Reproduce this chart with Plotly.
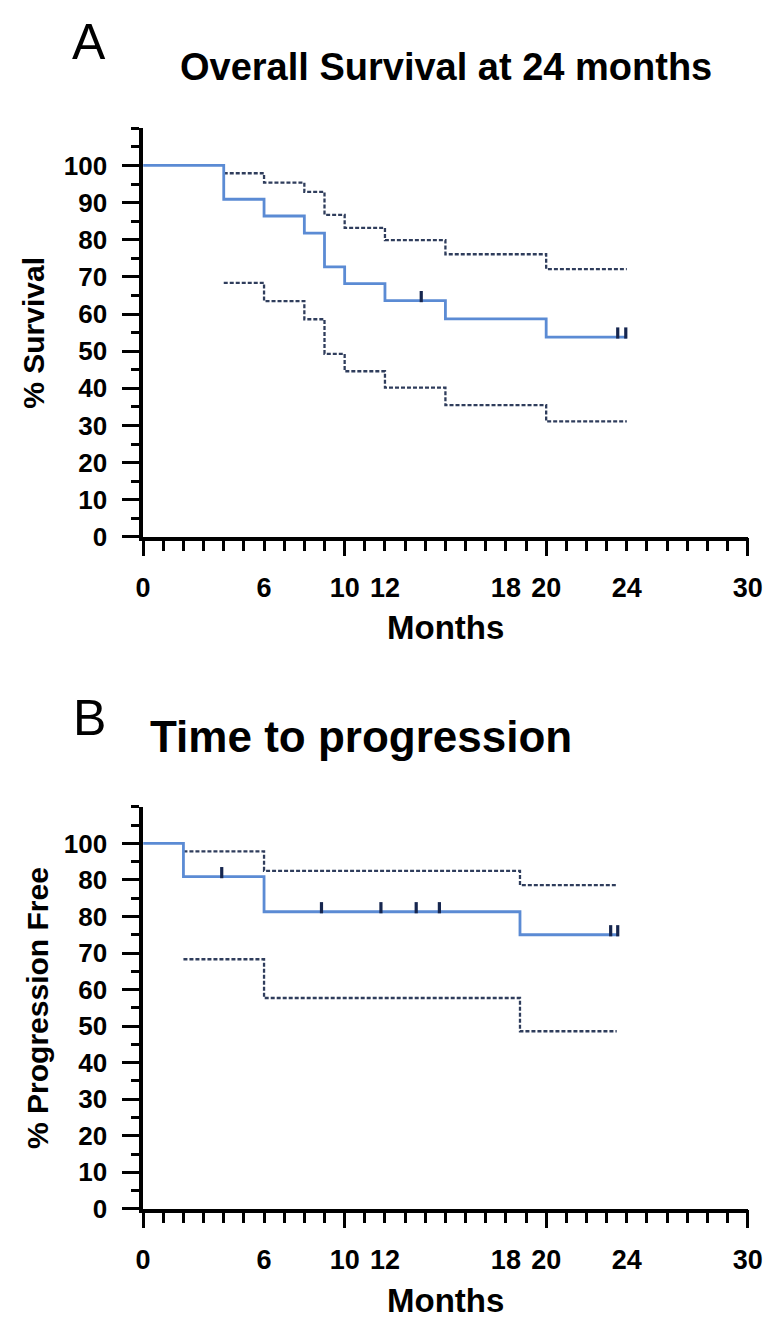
import plotly.graph_objects as go

W, H = 778, 1325

# ---------------- Data: Panel A (Overall Survival) ----------------
os_time = [0, 4, 6, 8, 9, 10, 12, 15, 20, 24]
os_surv = [100, 90.9, 86.4, 81.8, 72.7, 68.2, 63.6, 58.7, 53.8, 53.8]
os_ci_time = [4, 6, 8, 9, 10, 12, 15, 20, 24]
os_ci_upper = [97.9, 95.4, 92.9, 86.7, 83.2, 79.9, 76.1, 72.1, 72.1]
os_ci_lower = [68.4, 63.5, 58.6, 49.3, 44.6, 40.2, 35.5, 31.1, 31.1]
os_cens_time = [13.8, 23.55, 23.95]
os_cens_surv = [63.6, 53.8, 53.8]

# ---------------- Data: Panel B (Time to progression) ----------------
ttp_time = [0, 2, 6, 18.7, 23.6]
ttp_free = [100, 90.9, 81.3, 75.0, 75.0]
ttp_ci_time = [2, 6, 18.7, 23.5]
ttp_ci_upper = [97.8, 92.5, 88.6, 88.6]
ttp_ci_lower = [68.3, 57.7, 48.6, 48.6]
ttp_cens_time = [3.9, 8.85, 11.8, 13.55, 14.7, 23.2, 23.55]
ttp_cens_free = [90.9, 81.3, 81.3, 81.3, 81.3, 75.0, 75.0]

# ---------------- Axis labels ----------------
x_tickvals = [0, 6, 10, 12, 18, 20, 24, 30]
x_ticktext = ["0", "6", "10", "12", "18", "20", "24", "30"]
x_major = [0, 10, 20, 30]
y_tickvals = [0, 10, 20, 30, 40, 50, 60, 70, 80, 90, 100]
y_ticktext_a = ["0", "10", "20", "30", "40", "50", "60", "70", "80", "90", "100"]
y_ticktext_b = ["0", "10", "20", "30", "40", "50", "60", "70", "80", "80", "100"]

BLUE = "#5b8bd4"
CI = "#2f3d5c"
CENS = "#16264f"
FONT = "Liberation Sans, Arial, sans-serif"
CENS_OFFSET = 1.1  # censor ticks sit just above the curve

def px_x(p):
    return p / W

def px_y(p):
    return 1 - p / H

x_dom = [px_x(131), px_x(754)]
dom_a = [px_y(535), px_y(121.7)]
dom_b = [px_y(1214.6), px_y(808)]

fig = go.Figure()

def add_panel(xa, ya, t, s, ct, cu, cl, cx, cy):
    for band in (cu, cl):
        fig.add_trace(go.Scatter(x=ct, y=band, mode="lines",
                                 line=dict(shape="hv", color=CI, width=2.3, dash="4px,2px"),
                                 xaxis=xa, yaxis=ya, showlegend=False, hoverinfo="skip"))
    fig.add_trace(go.Scatter(x=t, y=s, mode="lines", line=dict(shape="hv", color=BLUE, width=2.8),
                             xaxis=xa, yaxis=ya, showlegend=False, cliponaxis=False))
    fig.add_trace(go.Scatter(x=cx, y=[v + CENS_OFFSET for v in cy], mode="markers",
                             marker=dict(symbol="line-ns", size=8, line=dict(color=CENS, width=3.2)),
                             xaxis=xa, yaxis=ya, showlegend=False, cliponaxis=False))

add_panel("x", "y", os_time, os_surv, os_ci_time, os_ci_upper, os_ci_lower, os_cens_time, os_cens_surv)
add_panel("x2", "y2", ttp_time, ttp_free, ttp_ci_time, ttp_ci_upper, ttp_ci_lower, ttp_cens_time, ttp_cens_free)

tickfont_x = dict(family=FONT, size=27, color="black", weight="bold")
tickfont_y = dict(family=FONT, size=26, color="black", weight="bold")

def xaxis_labels(anchor):
    return dict(domain=x_dom, anchor=anchor, range=[0, 30], showgrid=False, zeroline=False,
                showline=True, linecolor="black", linewidth=3.5,
                tickmode="array", tickvals=x_tickvals, ticktext=x_ticktext,
                ticks="outside", ticklen=10, tickwidth=3, tickcolor="black",
                ticklabelstandoff=14, tickfont=tickfont_x,
                minor=dict(dtick=1, tick0=0, ticks="outside", ticklen=10, tickwidth=2.5, tickcolor="black"))

def xaxis_major(anchor, overlay):
    return dict(domain=x_dom, anchor=anchor, overlaying=overlay, range=[0, 30], showgrid=False,
                zeroline=False, showline=False, tickmode="array", tickvals=x_major,
                ticks="outside", ticklen=18, tickwidth=3, tickcolor="black", showticklabels=False)

def yaxis(dom, anchor, ticktext):
    return dict(domain=dom, anchor=anchor, range=[0, 110], showgrid=False, zeroline=False,
                showline=True, linecolor="black", linewidth=3.5,
                tickmode="array", tickvals=y_tickvals, ticktext=ticktext,
                ticks="outside", ticklen=17, tickwidth=3, tickcolor="black",
                ticklabelstandoff=10, tickfont=tickfont_y,
                minor=dict(dtick=5, tick0=0, ticks="outside", ticklen=8, tickwidth=2.5, tickcolor="black"))

fig.update_layout(
    width=W, height=H, margin=dict(l=0, r=0, t=0, b=0),
    paper_bgcolor="white", plot_bgcolor="white",
    xaxis=xaxis_labels("y"),
    yaxis=yaxis(dom_a, "x", y_ticktext_a),
    xaxis2=xaxis_labels("y2"),
    yaxis2=yaxis(dom_b, "x2", y_ticktext_b),
    xaxis3=xaxis_major("y", "x"),
    xaxis4=xaxis_major("y2", "x2"),
)

# empty traces so the overlay (long major tick) axes render
fig.add_trace(go.Scatter(x=[None], y=[None], xaxis="x3", yaxis="y", showlegend=False))
fig.add_trace(go.Scatter(x=[None], y=[None], xaxis="x4", yaxis="y2", showlegend=False))

def ann(text, x, y, size, bold=True, angle=0):
    fig.add_annotation(text=text, x=px_x(x), y=px_y(y), xref="paper", yref="paper",
                       xanchor="center", yanchor="middle", showarrow=False, textangle=angle,
                       font=dict(family=FONT, size=size, color="black", weight="bold" if bold else "normal"))

ann("A", 75, 34, 50, bold=False)
ann("Overall Survival at 24 months", 443, 60, 38)
ann("% Survival", 18, 328, 30, angle=-90)
ann("Months", 443, 627, 33)

ann("B", 76, 718, 50, bold=False)
ann("Time to progression", 355, 737, 44)
ann("% Progression Free", 22, 1011, 30, angle=-90)
ann("Months", 443, 1307, 33)

fig.write_html("out.html")
